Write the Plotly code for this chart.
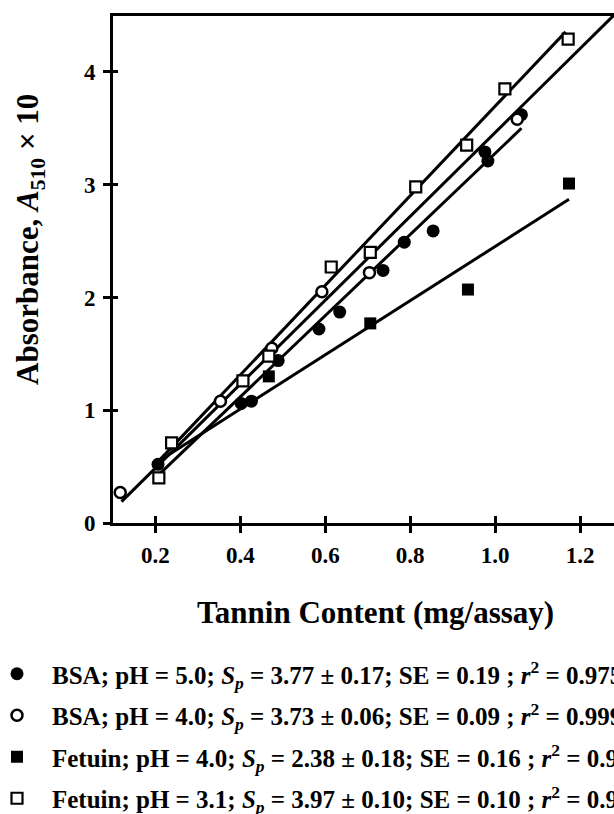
import plotly.graph_objects as go

# ---- data ----
bsa5_x = [0.206, 0.402, 0.426, 0.489, 0.585, 0.634, 0.736, 0.786, 0.854, 0.976, 0.983, 1.062]
bsa5_y = [0.52, 1.06, 1.08, 1.44, 1.72, 1.87, 2.24, 2.49, 2.59, 3.29, 3.21, 3.62]

bsa4_x = [0.117, 0.353, 0.474, 0.592, 0.704, 1.052]
bsa4_y = [0.27, 1.08, 1.55, 2.05, 2.22, 3.58]

fet4_x = [0.467, 0.706, 0.936, 1.174]
fet4_y = [1.30, 1.77, 2.07, 3.01]

fet3_x = [0.208, 0.238, 0.406, 0.467, 0.614, 0.706, 0.813, 0.933, 1.023, 1.172]
fet3_y = [0.40, 0.71, 1.26, 1.48, 2.27, 2.40, 2.98, 3.35, 3.85, 4.29]

# regression line end points (BSA 5.0, BSA 4.0, Fetuin 4.0, Fetuin 3.1)
fit_x0 = [0.20, 0.12, 0.20, 0.20]
fit_y0 = [0.40, 0.19, 0.53, 0.52]
fit_x1 = [1.062, 1.33, 1.174, 1.166]
fit_y1 = [3.50, 4.69, 2.87, 4.355]

labels = [
    "BSA; pH = 5.0; <i>S<sub>p</sub></i> = 3.77 ± 0.17; SE = 0.19 ; <i>r</i><sup>2</sup> = 0.975",
    "BSA; pH = 4.0; <i>S<sub>p</sub></i> = 3.73 ± 0.06; SE = 0.09 ; <i>r</i><sup>2</sup> = 0.999",
    "Fetuin; pH = 4.0; <i>S<sub>p</sub></i> = 2.38 ± 0.18; SE = 0.16 ; <i>r</i><sup>2</sup> = 0.95",
    "Fetuin; pH = 3.1; <i>S<sub>p</sub></i> = 3.97 ± 0.10; SE = 0.10 ; <i>r</i><sup>2</sup> = 0.99",
]

x_ticks = [0.2, 0.4, 0.6, 0.8, 1.0, 1.2]
x_ticktext = ["0.2", "0.4", "0.6", "0.8", "1.0", "1.2"]
y_ticks = [0, 1, 2, 3, 4]

W, H = 614, 814
FONT = "Liberation Serif, Times New Roman, serif"

fig = go.Figure()

# regression lines
for i in range(4):
    fig.add_trace(go.Scatter(
        x=[fit_x0[i], fit_x1[i]], y=[fit_y0[i], fit_y1[i]],
        mode="lines", line=dict(color="black", width=3),
        showlegend=False, hoverinfo="skip"))

series = [
    (bsa5_x, bsa5_y, dict(symbol="circle", size=13, color="black", line=dict(width=0))),
    (bsa4_x, bsa4_y, dict(symbol="circle", size=11, color="white", line=dict(width=2.5, color="black"))),
    (fet4_x, fet4_y, dict(symbol="square", size=12, color="black", line=dict(width=0))),
    (fet3_x, fet3_y, dict(symbol="square", size=11, color="white", line=dict(width=2.2, color="black"))),
]
for i, (xs, ys, mk) in enumerate(series):
    fig.add_trace(go.Scatter(
        x=xs, y=ys, mode="markers", marker=mk, name=labels[i],
        legendgroup=f"g{i}", cliponaxis=False))

# invisible trace to host the overlay axes (inside half of the crossing ticks)
fig.add_trace(go.Scatter(x=[None], y=[None], xaxis="x2", yaxis="y2",
                         showlegend=False, hoverinfo="skip"))

y_bot = 1 - 523 / H
y_top = 1 - 15.5 / H
x_left = 113 / W

axis_common = dict(showgrid=False, zeroline=False, color="black",
                   linecolor="black", tickcolor="black")

fig.update_layout(
    width=W, height=H,
    margin=dict(l=0, r=0, t=0, b=0, autoexpand=False),
    paper_bgcolor="white", plot_bgcolor="white",
    font=dict(family=FONT, color="black"),
    xaxis=dict(domain=[x_left, 1], range=[0.1, 1.28], tickvals=x_ticks, ticktext=x_ticktext,
               ticks="outside", ticklen=7, tickwidth=3, showline=True, linewidth=3,
               mirror=True, ticklabelstandoff=2,
               tickfont=dict(family=FONT, size=23, weight="bold", color="black"),
               **axis_common),
    yaxis=dict(domain=[y_bot, y_top], range=[0, 4.5], tickvals=y_ticks,
               ticks="outside", ticklen=7, tickwidth=3, showline=True, linewidth=3,
               mirror=False, ticklabelstandoff=3,
               tickfont=dict(family=FONT, size=23, weight="bold", color="black"),
               **axis_common),
    xaxis2=dict(overlaying="x", anchor="y2", range=[0.1, 1.28], tickvals=x_ticks,
                ticks="inside", ticklen=7, tickwidth=3, showticklabels=False,
                showline=False, **axis_common),
    yaxis2=dict(overlaying="y", anchor="x2", range=[0, 4.5], tickvals=y_ticks,
                ticks="inside", ticklen=5, tickwidth=3, showticklabels=False,
                showline=False, **axis_common),
    legend=dict(x=-18 / W, xanchor="left", y=1 - 651 / H, yanchor="top",
                font=dict(family=FONT, size=25, weight="bold", color="black"),
                traceorder="grouped", tracegroupgap=6, itemwidth=60,
                bgcolor="rgba(0,0,0,0)", borderwidth=0),
    annotations=[
        dict(text="<b>Tannin Content (mg/assay)</b>", xref="paper", yref="paper",
             x=375 / W, y=1 - 612 / H, xanchor="center", yanchor="middle",
             showarrow=False, font=dict(family=FONT, size=31, color="black")),
        dict(text="<b>Absorbance, <i>A</i><sub>510</sub> × 10</b>", xref="paper", yref="paper",
             x=30 / W, y=1 - 240 / H, xanchor="center", yanchor="middle", textangle=-90,
             showarrow=False, font=dict(family=FONT, size=31, color="black")),
    ],
)

fig.write_html("out.html", config={"displayModeBar": False},
               post_script="document.body.style.margin='0';document.body.style.overflow='hidden';")
